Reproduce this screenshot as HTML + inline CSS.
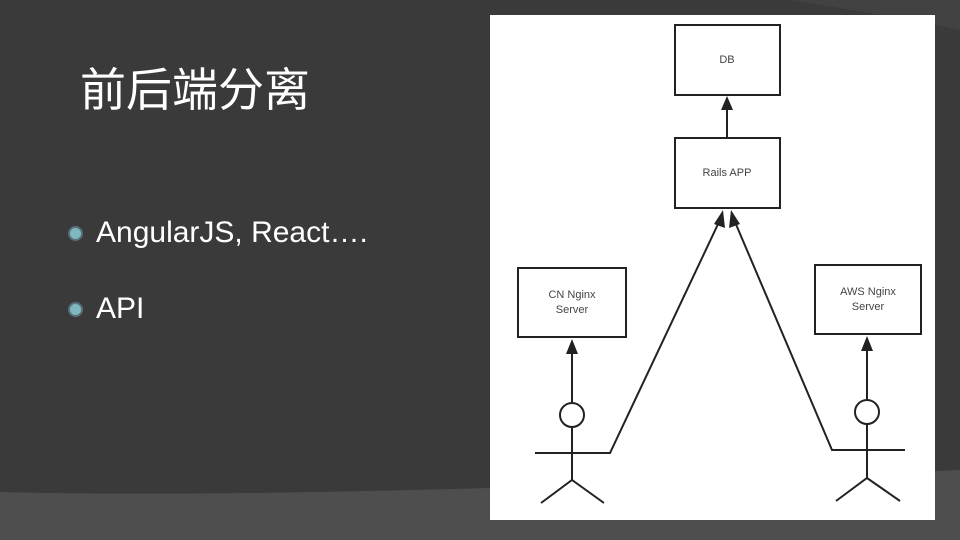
<!DOCTYPE html>
<html><head><meta charset="utf-8"><style>
body{margin:0;width:960px;height:540px;overflow:hidden;background:#3a3a3a;position:relative;font-family:"Liberation Sans","Noto Sans CJK SC",sans-serif}
.t{position:absolute;left:80px;top:54px;color:#fff;font-size:46px;font-family:"Liberation Sans","Noto Sans CJK SC",sans-serif}
.b{position:absolute;left:96px;color:#fff;font-size:30px}
.d{position:absolute;left:68px;width:11px;height:11px;border-radius:50%;background:#7fb7c0;border:2px solid #59707a}
</style></head><body>
<svg width="960" height="540" style="position:absolute;left:0;top:0">
<path d="M0 492 Q300 500 960 470 L960 540 L0 540Z" fill="#4e4e4e"/>
<path d="M790 0 L960 0 L960 30 Q880 14 790 0Z" fill="#424242"/>
<rect x="490" y="15" width="445" height="505" fill="#fff"/>
<g fill="none" stroke="#222" stroke-width="2">
<rect x="675" y="25" width="105" height="70"/>
<rect x="675" y="138" width="105" height="70"/>
<rect x="518" y="268" width="108" height="69"/>
<rect x="815" y="265" width="106" height="69"/>
<line x1="727" y1="138" x2="727" y2="108"/>
<line x1="572" y1="403" x2="572" y2="352"/>
<line x1="867" y1="400" x2="867" y2="349"/>
<circle cx="572" cy="415" r="12"/>
<circle cx="867" cy="412" r="12"/>
<line x1="572" y1="427" x2="572" y2="480"/>
<line x1="867" y1="424" x2="867" y2="478"/>
<polyline points="535,453 610,453 719,222"/>
<polyline points="905,450 832,450 735,222"/>
<polyline points="541,503 572,480 604,503"/>
<polyline points="836,501 867,478 900,501"/>
</g>
<g fill="#222">
<polygon points="727,96 721,110 733,110"/>
<polygon points="572,339 566,354 578,354"/>
<polygon points="867,336 861,351 873,351"/>
<polygon points="723,210 714,224 725,228"/>
<polygon points="731,210 729,228 740,224"/>
</g>
<g font-family="Liberation Sans,sans-serif" font-size="11" fill="#444" text-anchor="middle">
<text x="727" y="63">DB</text>
<text x="727" y="176">Rails APP</text>
<text x="572" y="298">CN Nginx</text><text x="572" y="313">Server</text>
<text x="868" y="295">AWS Nginx</text><text x="868" y="310">Server</text>
</g>
</svg>
<div class="t">前后端分离</div>
<div class="d" style="top:226px"></div><div class="b" style="top:216px">AngularJS, React….</div>
<div class="d" style="top:302px"></div><div class="b" style="top:292px">API</div>
</body></html>
